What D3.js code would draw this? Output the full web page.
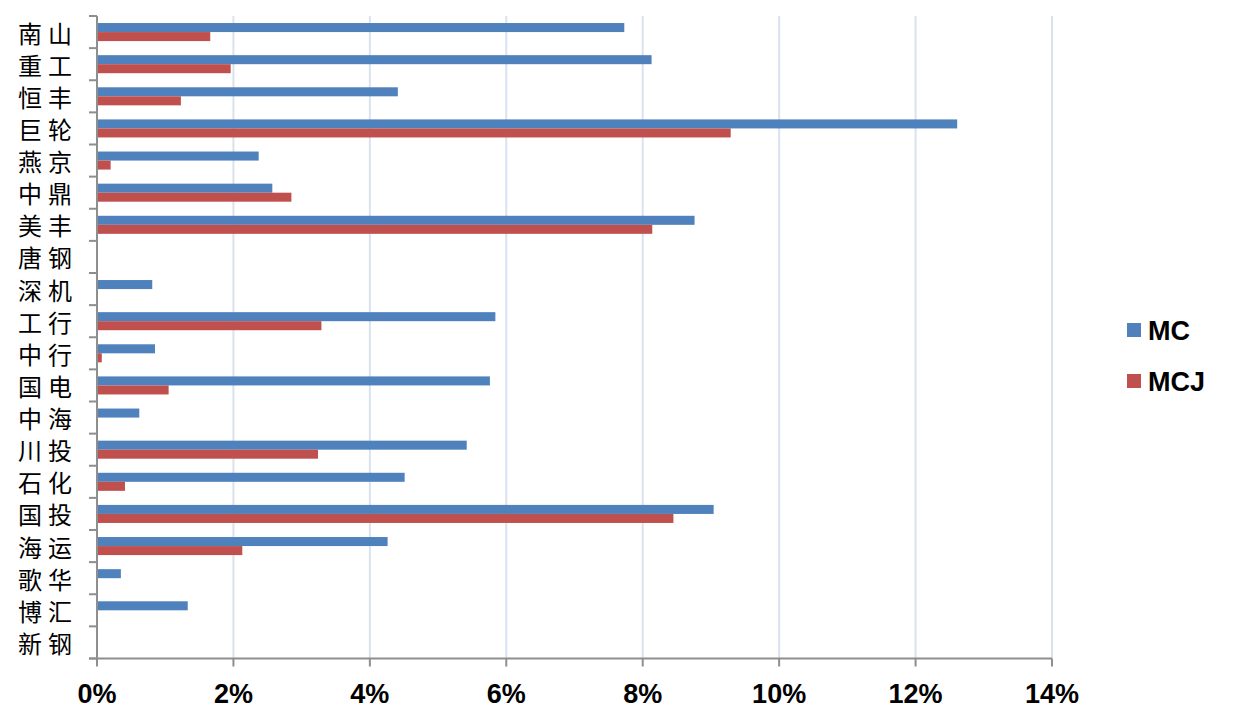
<!DOCTYPE html>
<html>
<head>
<meta charset="utf-8">
<script src="https://cdn.jsdelivr.net/npm/d3@7"></script>
<style>
  html, body { margin: 0; padding: 0; background: #fff; }
  svg { display: block; }
</style>
</head>
<body>
<svg id="chart" width="1248" height="723"></svg>
<script>
const categories = ["南山","重工","恒丰","巨轮","燕京","中鼎","美丰","唐钢","深机","工行","中行","国电","中海","川投","石化","国投","海运","歌华","博汇","新钢"];
const seriesNames = ["MC", "MCJ"];
const mcValues  = [7.73, 8.13, 4.41, 12.61, 2.37, 2.57, 8.76, 0, 0.81, 5.84, 0.85, 5.76, 0.62, 5.42, 4.51, 9.04, 4.26, 0.35, 1.33, 0];
const mcjValues = [1.66, 1.96, 1.23, 9.29, 0.20, 2.85, 8.14, 0, 0, 3.29, 0.07, 1.05, 0, 3.24, 0.41, 8.45, 2.13, 0, 0, 0];
const xTicks = [0, 2, 4, 6, 8, 10, 12, 14];
const colors = ["#4F81BD", "#C0504D"];

(function () {
const svg = d3.select("#chart");
const plotLeft = 97, plotRight = 1052, plotTop = 16, plotBottom = 658.5;

const x = d3.scaleLinear().domain([0, 14]).range([plotLeft, plotRight]);
const y = d3.scaleBand().domain(categories).range([plotTop, plotBottom]).paddingInner(0).paddingOuter(0);
const sub = d3.scaleBand().domain(seriesNames).range([0, y.bandwidth()]).paddingInner(0).paddingOuter(0.78);

// gridlines
svg.append("g").selectAll("line")
  .data(xTicks.filter(d => d > 0))
  .join("line")
  .attr("x1", d => x(d)).attr("x2", d => x(d))
  .attr("y1", plotTop).attr("y2", plotBottom)
  .attr("stroke", "#d9e2ef").attr("stroke-width", 2);

// bars
const data = categories.map((c, i) => ({cat: c, vals: [mcValues[i], mcjValues[i]]}));
const groups = svg.append("g").selectAll("g")
  .data(data).join("g")
  .attr("transform", d => `translate(0,${y(d.cat)})`);
groups.selectAll("rect")
  .data(d => d.vals.map((v, j) => ({name: seriesNames[j], v, j})))
  .join("rect")
  .attr("x", x(0))
  .attr("y", d => sub(d.name))
  .attr("width", d => Math.max(0, x(d.v) - x(0)))
  .attr("height", sub.bandwidth())
  .attr("fill", d => colors[d.j]);

// y axis
const yAxis = svg.append("g");
yAxis.append("line")
  .attr("x1", plotLeft).attr("x2", plotLeft).attr("y1", plotTop).attr("y2", plotBottom)
  .attr("stroke", "#8e8e8e").attr("stroke-width", 2);
const boundaries = categories.map(c => y(c)).concat([plotBottom]);
yAxis.selectAll("line.tick").data(boundaries).join("line")
  .attr("class", "tick")
  .attr("x1", plotLeft - 8).attr("x2", plotLeft).attr("y1", d => d).attr("y2", d => d)
  .attr("stroke", "#8e8e8e").attr("stroke-width", 2);
yAxis.selectAll("text").data(categories).join("text")
  .attr("x", 18)
  .attr("y", d => y(d) + y.bandwidth() / 2 + 4)
  .attr("dominant-baseline", "middle")
  .attr("font-family", "'Noto Sans CJK SC', sans-serif")
  .attr("font-size", 24)
  .attr("letter-spacing", "6px")
  .attr("fill", "#000")
  .text(d => d);

// x axis
const xAxis = svg.append("g");
xAxis.append("line")
  .attr("x1", plotLeft - 8).attr("x2", plotRight).attr("y1", plotBottom).attr("y2", plotBottom)
  .attr("stroke", "#8e8e8e").attr("stroke-width", 2);
xAxis.selectAll("line.tick").data(xTicks).join("line")
  .attr("class", "tick")
  .attr("x1", d => x(d)).attr("x2", d => x(d))
  .attr("y1", plotBottom).attr("y2", plotBottom + 8)
  .attr("stroke", "#8e8e8e").attr("stroke-width", 2);
xAxis.selectAll("text").data(xTicks).join("text")
  .attr("x", d => x(d))
  .attr("y", 703)
  .attr("text-anchor", "middle")
  .attr("font-family", "'Liberation Sans', Arial, sans-serif")
  .attr("font-weight", "bold")
  .attr("font-size", 27)
  .attr("fill", "#000")
  .text(d => d + "%");

// legend
const legend = svg.append("g");
const legendY = [323, 374];
legend.selectAll("rect").data(seriesNames).join("rect")
  .attr("x", 1127).attr("y", (d, i) => legendY[i])
  .attr("width", 14).attr("height", 14)
  .attr("fill", (d, i) => colors[i]);
legend.selectAll("text").data(seriesNames).join("text")
  .attr("x", 1148).attr("y", (d, i) => legendY[i] + 17)
  .attr("font-family", "'Liberation Sans', Arial, sans-serif")
  .attr("font-weight", "bold")
  .attr("font-size", 27)
  .attr("fill", "#000")
  .text(d => d);
})();
</script>
</body>
</html>
